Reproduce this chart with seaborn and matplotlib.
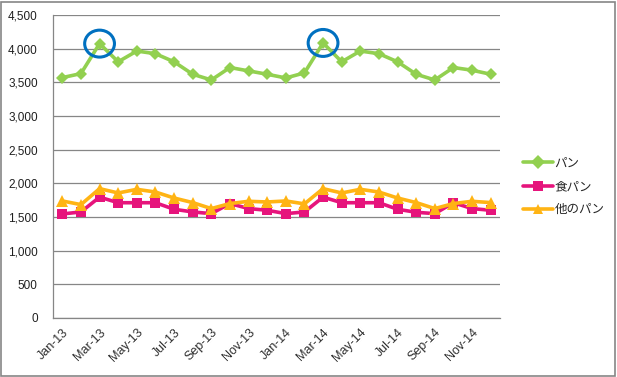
import pandas as pd
import matplotlib
matplotlib.use("Agg")
import matplotlib.pyplot as plt
import seaborn as sns
from matplotlib.patches import Ellipse, Rectangle

# データ
months = ["Jan-13", "Feb-13", "Mar-13", "Apr-13", "May-13", "Jun-13",
          "Jul-13", "Aug-13", "Sep-13", "Oct-13", "Nov-13", "Dec-13",
          "Jan-14", "Feb-14", "Mar-14", "Apr-14", "May-14", "Jun-14",
          "Jul-14", "Aug-14", "Sep-14", "Oct-14", "Nov-14", "Dec-14"]

pan = [3570, 3630, 4075, 3805, 3965, 3925, 3805, 3620, 3535, 3720, 3670, 3620,
       3565, 3640, 4085, 3805, 3965, 3925, 3805, 3620, 3535, 3720, 3680, 3620]

shoku_pan = [1545, 1575, 1795, 1712, 1712, 1712, 1615, 1575, 1550, 1700, 1625, 1600,
             1550, 1575, 1795, 1712, 1712, 1712, 1615, 1570, 1550, 1712, 1625, 1600]

hoka_pan = [1738, 1684, 1921, 1857, 1911, 1871, 1782, 1714, 1625, 1700, 1733, 1723,
            1738, 1695, 1921, 1857, 1911, 1871, 1782, 1714, 1625, 1700, 1733, 1714]

series_names = ["パン", "食パン", "他のパン"]
colors = ["#92D050", "#E6147C", "#FFB414"]

df = pd.DataFrame({
    "idx": list(range(len(months))) * 3,
    "value": pan + shoku_pan + hoka_pan,
    "series": [n for n in series_names for _ in months],
})

# ==========================
# 図
# ==========================
sns.set_style("white")
plt.rcParams["font.family"] = ["Liberation Sans", "Noto Sans CJK JP", "DejaVu Sans"]

W, H = 617, 377
fig = plt.figure(figsize=(W / 100, H / 100), dpi=100)
ax = fig.add_axes([53 / W, (H - 318) / H, (500 - 53) / W, (318 - 15) / H])

sns.lineplot(
    data=df, x="idx", y="value", hue="series", style="series",
    hue_order=series_names, style_order=series_names,
    palette=dict(zip(series_names, colors)),
    markers={"パン": "D", "食パン": "s", "他のパン": "^"},
    dashes=False, linewidth=2.6, markersize=7, markeredgewidth=0,
    ax=ax, legend=True,
)

# マーカーサイズ調整
for line, ms in zip(ax.get_lines()[:3], [6, 7.5, 8]):
    line.set_markersize(ms)

ax.set_xlim(-0.5, len(months) - 0.5)
ax.set_ylim(0, 4500)
ax.set_yticks(range(0, 4501, 500))
ax.set_yticklabels([f"{v:,}" for v in range(0, 4501, 500)])
ax.set_xticks(range(0, len(months), 2))
ax.set_xticklabels(months[::2], rotation=45, ha="right", rotation_mode="anchor")
ax.set_xticks([i - 0.5 for i in range(0, len(months) + 1, 2)], minor=True)
ax.tick_params(axis="x", which="major", length=0, pad=6, labelsize=9, colors="#303030")
ax.tick_params(axis="x", which="minor", length=4, width=0.9, color="#868686", direction="out")
ax.tick_params(axis="y", length=4, width=0.9, color="#868686", direction="out",
               labelsize=8.5, labelcolor="#202020", pad=7)
ax.set_xlabel("")
ax.set_ylabel("")

ax.grid(axis="y", color="#868686", linewidth=0.9)
ax.set_axisbelow(True)
for s in ["top", "right"]:
    ax.spines[s].set_visible(False)
for s in ["left", "bottom"]:
    ax.spines[s].set_color("#868686")
    ax.spines[s].set_linewidth(0.9)

# ピークに丸
for start in (0, 12):
    year = pan[start:start + 12]
    i = start + year.index(max(year))
    ax.add_patch(Ellipse((i, pan[i]), width=1.6, height=400, fill=False,
                         edgecolor="#0070C0", linewidth=2.2, zorder=5))

# 凡例
handles, labels = ax.get_legend_handles_labels()
ax.get_legend().remove()
fig.legend(handles, labels, loc="center left", bbox_to_anchor=(512 / W, 1 - 187 / H),
           frameon=False, fontsize=9, handlelength=2.4, labelspacing=0.9,
           handletextpad=0.1)

# 外枠
fig.patches.append(Rectangle((1 / W, 1 / H), (W - 3) / W, (H - 3) / H,
                             transform=fig.transFigure, fill=False,
                             edgecolor="#868686", linewidth=1.2))

fig.savefig("out.png", dpi=100)
